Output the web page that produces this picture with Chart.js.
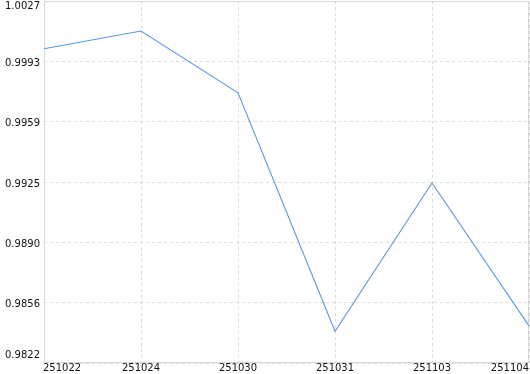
<!DOCTYPE html>
<html>
<head>
<meta charset="utf-8">
<script src="https://cdn.jsdelivr.net/npm/chart.js@4/dist/chart.umd.min.js"></script>
<style>
  html, body { margin: 0; padding: 0; background: #fff; }
  #wrap { width: 530px; height: 374px; }
</style>
</head>
<body>
<div id="wrap"><canvas id="lineChart" width="530" height="374"></canvas></div>
<script>
const dates = ['251022', '251024', '251030', '251031', '251103', '251104'];
const values = [1.0000, 1.0010, 0.9975, 0.9840, 0.9924, 0.9843];
const yTickLabels = ['1.0027', '0.9993', '0.9959', '0.9925', '0.9890', '0.9856', '0.9822'];
const yMax = 1.0027;
const yMin = 0.9822;

// draw tick labels ourselves so the end labels sit inside the canvas,
// plus a solid frame round the plot area
const tickLabels = {
  id: 'tickLabels',
  beforeDatasetsDraw(chart) {
    const c = chart.ctx;
    const a = chart.chartArea;
    c.save();
    c.strokeStyle = '#d8d8d8';
    c.lineWidth = 1;
    c.strokeRect(Math.round(a.left) + 0.5, Math.round(a.top) + 0.5,
      Math.round(a.right - a.left) - 1, Math.round(a.bottom - a.top) - 1);
    c.restore();
  },
  afterDraw(chart) {
    const c = chart.ctx;
    const xs = chart.scales.x;
    const ys = chart.scales.y;
    c.save();
    c.font = '10px "DejaVu Sans"';
    c.fillStyle = '#111';
    c.textBaseline = 'middle';

    c.textAlign = 'right';
    ys.ticks.forEach((t, i) => {
      const py = ys.getPixelForValue(t.value);
      const y = Math.min(Math.max(py + 2, 6), 355);
      c.fillText(yTickLabels[i], 40, y);
    });

    dates.forEach((d, i) => {
      const px = xs.getPixelForValue(i);
      if (i === 0) c.textAlign = 'left';
      else if (i === dates.length - 1) c.textAlign = 'right';
      else c.textAlign = 'center';
      c.fillText(d, i === 0 ? px - 1 : px, 368);
    });
    c.restore();
  }
};

new Chart(document.getElementById('lineChart'), {
  type: 'line',
  data: {
    labels: dates,
    datasets: [{
      data: values,
      borderColor: '#5a98ec',
      borderWidth: 1.1,
      pointRadius: 0,
      tension: 0,
      fill: false
    }]
  },
  options: {
    responsive: false,
    animation: false,
    layout: { padding: { left: 44, right: 1, top: 1, bottom: 11 } },
    plugins: { legend: { display: false }, tooltip: { enabled: false } },
    scales: {
      x: {
        offset: false,
        ticks: { display: false },
        grid: { color: '#dcdcdc', drawTicks: false },
        border: { display: false, dash: [3, 3] }
      },
      y: {
        min: yMin,
        max: yMax,
        afterBuildTicks(scale) {
          const step = (yMax - yMin) / (yTickLabels.length - 1);
          scale.ticks = yTickLabels.map((_, i) => ({ value: yMax - i * step }));
        },
        ticks: { display: false },
        grid: { color: '#dcdcdc', drawTicks: false },
        border: { display: false, dash: [3, 3] }
      }
    }
  },
  plugins: [tickLabels]
});
</script>
</body>
</html>
